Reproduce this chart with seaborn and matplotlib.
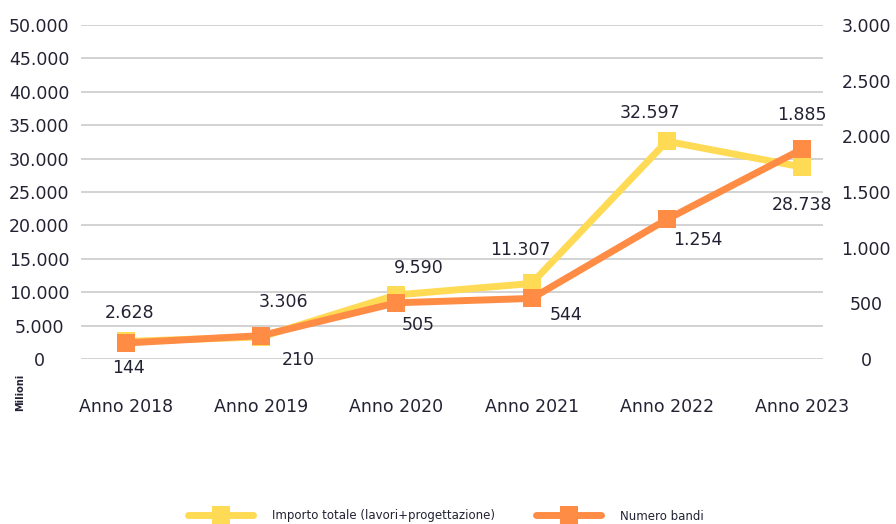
import matplotlib
matplotlib.use("Agg")
import matplotlib.pyplot as plt
import seaborn as sns
import pandas as pd

years = ["Anno 2018", "Anno 2019", "Anno 2020", "Anno 2021", "Anno 2022", "Anno 2023"]
importo = [2628, 3306, 9590, 11307, 32597, 28738]   # milioni
bandi = [144, 210, 505, 544, 1254, 1885]

importo_name = "Importo totale (lavori+progettazione)"
bandi_name = "Numero bandi"

# label offsets in pixels (dx, dy), dy positive = up
importo_off = [(4, 28), (22, 35), (22, 27), (-11, 33), (-17, 28), (0, -38)]
bandi_off = [(2, -25), (37, -24), (22, -22), (34, -17), (31, -21), (0, 34)]

YELLOW = "#FFDA55"
ORANGE = "#FF8C45"
TEXT = "#222233"

sns.set_style("white")
plt.rcParams["font.family"] = ["DejaVu Sans"]
plt.rcParams["text.color"] = TEXT

df = pd.DataFrame({"anno": years, "x": range(len(years)),
                   importo_name: importo, bandi_name: bandi})

fig = plt.figure(figsize=(8.96, 5.24), dpi=100)
ax = fig.add_axes([81 / 896, 1 - 359 / 524, (823 - 81) / 896, (359 - 25) / 524])
ax2 = ax.twinx()

sns.lineplot(data=df, x="x", y=importo_name, ax=ax, color=YELLOW, lw=5,
             marker="s", markersize=13, markeredgewidth=0, label=importo_name,
             legend=False)
sns.lineplot(data=df, x="x", y=bandi_name, ax=ax2, color=ORANGE, lw=5,
             marker="s", markersize=13, markeredgewidth=0, label=bandi_name,
             legend=False)

ax.set_ylim(0, 50000)
ax2.set_ylim(0, 3000)
ax.set_xlim(-0.333, 5.155)
ax.set_yticks(range(0, 50001, 5000))
ax2.set_yticks(range(0, 3001, 500))

fmt = lambda v: f"{v:,.0f}".replace(",", ".")
ax.set_yticklabels([fmt(v) for v in ax.get_yticks()])
ax2.set_yticklabels([fmt(v) for v in ax2.get_yticks()])
ax.set_xticks(df["x"])
ax.set_xticklabels(years)

ax.grid(axis="y", color="#d2d2d2", lw=1.4)
ax.set_axisbelow(True)
for a in (ax, ax2):
    for s in a.spines.values():
        s.set_visible(False)
    a.set_xlabel("")
    a.set_ylabel("")

ax.tick_params(axis="y", length=0, pad=30, labelsize=12.5, labelcolor=TEXT)
ax2.tick_params(axis="y", length=0, pad=31, labelsize=12.5, labelcolor=TEXT)
ax.tick_params(axis="x", length=0, pad=28, labelsize=12.5, labelcolor=TEXT)
for t in ax.get_yticklabels():
    t.set_horizontalalignment("center")
for t in ax2.get_yticklabels():
    t.set_horizontalalignment("center")

for i, v in enumerate(importo):
    dx, dy = importo_off[i]
    ax.annotate(fmt(v), (i, v), xytext=(dx, dy), textcoords="offset pixels",
                ha="center", va="center", fontsize=12.5, color=TEXT)
for i, v in enumerate(bandi):
    dx, dy = bandi_off[i]
    ax2.annotate(fmt(v), (i, v), xytext=(dx, dy), textcoords="offset pixels",
                 ha="center", va="center", fontsize=12.5, color=TEXT)

fig.text(20 / 896, 1 - 392 / 524, "Milioni", rotation=90, ha="center",
         va="center", fontsize=7, fontweight="bold", color=TEXT)

handles = ax.get_lines()[:1] + ax2.get_lines()[:1]
fig.legend(handles, [importo_name, bandi_name], loc="center",
           bbox_to_anchor=(446 / 896, 1 - 516 / 524), ncol=2, frameon=False,
           handlelength=5.5, columnspacing=3.5, handletextpad=1.6,
           prop={"family": ["Liberation Sans Narrow", "DejaVu Sans"], "size": 8.5})

fig.savefig("out.png", dpi=100)
